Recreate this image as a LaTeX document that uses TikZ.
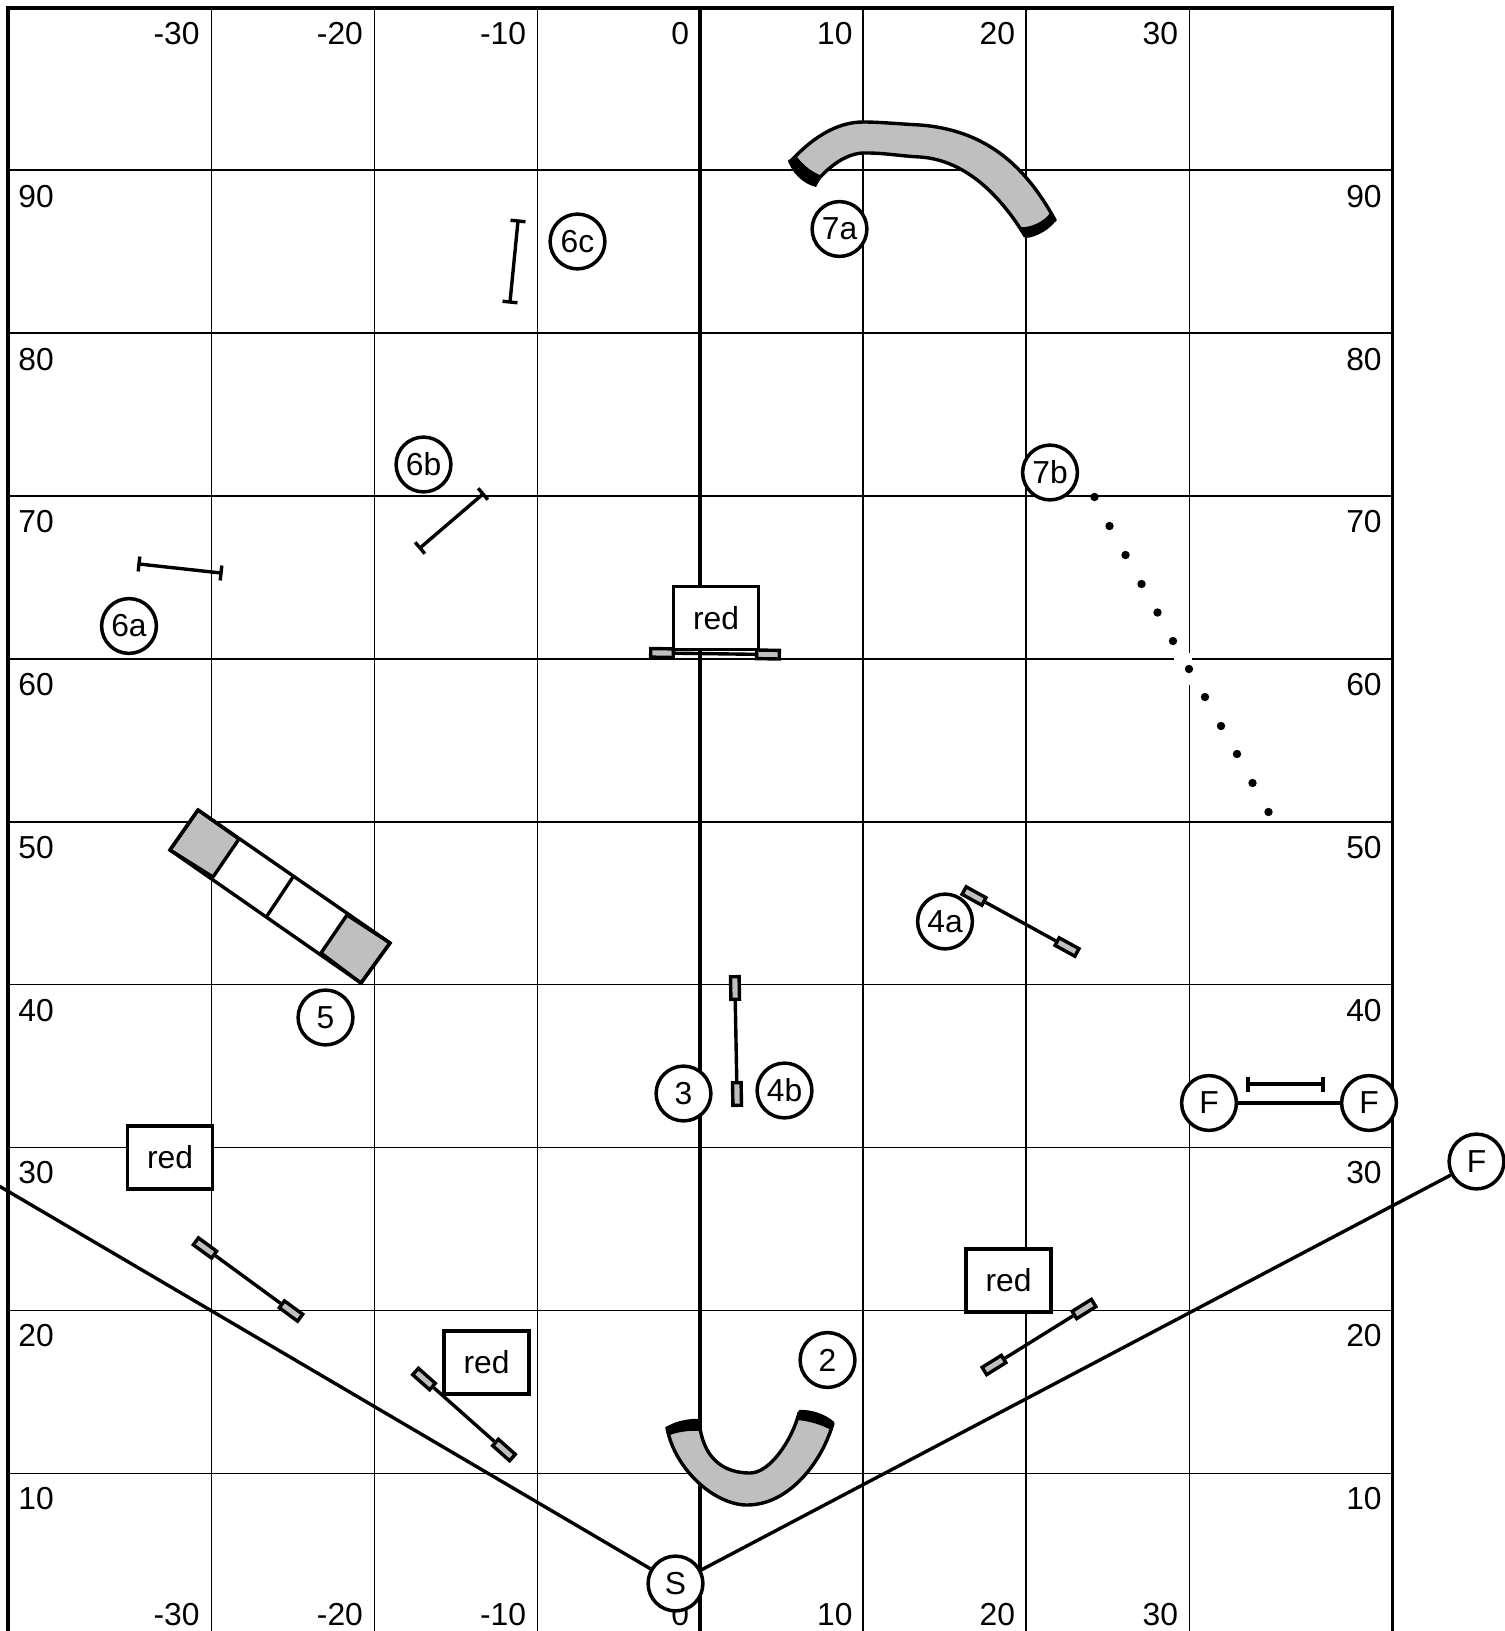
\documentclass[tikz,border=0pt]{standalone}
\usepackage{fontspec}
\setmainfont{Liberation Sans}
\begin{document}
\begin{tikzpicture}[x=0.5pt,y=-0.5pt,
  gridline/.style={line width=0.65pt,black},
  frameline/.style={line width=1.9pt,black},
  lbl/.style={inner sep=0pt,font=\fontsize{15.9}{16}\selectfont,text=black},
  station/.style={circle,draw=black,fill=white,line width=1.75pt,minimum size=27.4pt,inner sep=0pt,font=\fontsize{15.9}{16}\selectfont},
  redbox/.style={rectangle,draw=black,fill=white,line width=1.8pt,minimum width=42.6pt,minimum height=31.4pt,inner sep=0pt,font=\fontsize{15.9}{16}\selectfont},
  wing/.style={rectangle,draw=black,fill=black!25,line width=1.7pt,minimum width=11.3pt,minimum height=4.3pt,inner sep=0pt},
  barline/.style={line width=1.7pt,black},
  tunnel/.style={draw=black,fill=black!25,line width=1.7pt,line join=round},
  dotmark/.style={circle,fill=black,inner sep=0pt,minimum size=4.2pt},
]
\useasboundingbox (0,0) rectangle (1504,1631);
\fill[white] (0,0) rectangle (1504,1631);

% grid
\foreach \y in {170,333,496,659,822,984.7,1147.5,1310.5,1473.2}
  \draw[gridline] (8,\y) -- (1392.5,\y);
\foreach \x in {211.5,374.7,537.3,863,1026,1189.2}
  \draw[gridline] (\x,8) -- (\x,1631);
\draw[frameline] (700.3,8) -- (700.3,1631);
\draw[frameline] (7.8,1631) -- (7.8,7.8) -- (1392.5,7.8) -- (1392.5,1631);
% gaps in the grid beside the dotted line
\fill[white] (1174,656) rectangle (1192,662);
\fill[white] (1186,653) rectangle (1192,685);

% scale labels
\foreach \t/\x in {-30/200,-20/363.3,-10/526.5,0/689.5}{
  \node[lbl,anchor=east] (top\t) at (\x,33.5) {\t};
  \node[lbl,anchor=east] (bot\t) at (\x,1614.5) {\t};
}
\foreach \t/\x in {10/853,20/1015.5,30/1178.5}{
  \node[lbl,anchor=east] (top\t) at (\x,33.5) {\t};
  \node[lbl,anchor=east] (bot\t) at (\x,1614.5) {\t};
}
\foreach \t/\y in {90/197,80/359.5,70/522,60/684.5,50/847.5,40/1010.5,30/1173,20/1336,10/1498.5}{
  \node[lbl,anchor=west] (lft\t) at (18,\y) {\t};
  \node[lbl,anchor=east] (rgt\t) at (1382,\y) {\t};
}

% tunnels
\draw[tunnel] (790,162) .. controls (810,140) and (835,122) .. (863,122) -- (863,122) .. controls (880,122) and (900,124) .. (920,125)
   .. controls (985,130) and (1025,165) .. (1055,220) -- (1025,236)
   .. controls (1000,195) and (965,160) .. (920,157) .. controls (900,156) and (885,153) .. (867,153)
   .. controls (848,152) and (830,165) .. (815,183) -- cycle;
\fill[black] (788,160) .. controls (791,172) and (803,184) .. (816,187) -- (822,176) .. controls (812,172) and (804,166) .. (797,157) -- cycle;
\fill[black] (1056,220) .. controls (1052,228) and (1036,238) .. (1025,238) -- (1021,227) .. controls (1031,228) and (1045,221) .. (1050,213) -- cycle;

\draw[tunnel] (667,1428) .. controls (675,1470) and (715,1505) .. (747,1505)
   .. controls (790,1505) and (823,1460) .. (833,1423) -- (799,1413)
   .. controls (792,1440) and (770,1473) .. (750,1473)
   .. controls (725,1473) and (705,1460) .. (700,1428) -- cycle;
\fill[black] (666,1427) .. controls (675,1421) and (690,1418) .. (701,1419) -- (701,1431) .. controls (690,1430) and (676,1432) .. (668,1436) -- cycle;
\fill[black] (799,1410) .. controls (810,1409) and (826,1414) .. (834,1422) -- (831,1430) .. controls (822,1425) and (810,1421) .. (797,1420) -- cycle;

% A-frame
\draw[tunnel] (198,810) -- (239,839) -- (213,877) -- (170,850) -- cycle;
\draw[tunnel] (347,915) -- (390,943) -- (361,983) -- (321,953) -- cycle;
\draw[line width=1.7pt,line join=miter] (198,810) -- (390,943) -- (361,983) -- (170,850) -- cycle;
\draw[line width=1.7pt] (293,877) -- (267,916);

% plain bars
\foreach \n/\ax/\ay/\bx/\by in {
   c/518/221/510/302,
   b/483/494/420/548,
   a/139/564/221/573,
   f/1248/1084/1323/1084}{
  \coordinate (bar\n1) at (\ax,\ay);
  \coordinate (bar\n2) at (\bx,\by);
  \pgfmathsetmacro{\barang}{atan2(\by-\ay,\bx-\ax)}
  \draw[barline] (bar\n1) -- (bar\n2);
  \draw[barline] ([shift={(\barang+90:7.5)}]bar\n1) -- ([shift={(\barang-90:7.5)}]bar\n1);
  \draw[barline] ([shift={(\barang+90:7.5)}]bar\n2) -- ([shift={(\barang-90:7.5)}]bar\n2);
}

% wing jumps
\foreach \n/\ax/\ay/\bx/\by in {
   mid/735/988/737/1094,
   four/974/896/1067/947,
   lft/205/1248/291/1311,
   rgt/1084/1309/994/1365}{
  \pgfmathsetmacro{\ang}{atan2(-(\by-\ay),\bx-\ax)}
  \node[wing,rotate=\ang] (\n A) at (\ax,\ay) {};
  \node[wing,rotate=\ang] (\n B) at (\bx,\by) {};
  \draw[barline] (\n A) -- (\n B);
}

% red boxes
\node[redbox] (r1) at (716,618) {red};
\node[redbox] (r2) at (170,1157.5) {red};
\node[redbox] (r3) at (486.5,1362.5) {red};
\node[redbox] (r4) at (1008.5,1280.5) {red};

% wing jumps in front of the red boxes
\node[wing,rotate=-1] (cenA) at (662,653) {};
\node[wing,rotate=-1] (cenB) at (768,654.5) {};
\draw[barline] (cenA) -- (cenB);
\node[wing,rotate=-41.6] (lowA) at (424,1379) {};
\node[wing,rotate=-41.6] (lowB) at (504,1450) {};
\draw[barline] (lowA) -- (lowB);

% dotted line
\foreach \i/\x/\y in {1/1094.5/497,2/1109.5/526,3/1125.5/555,4/1141.5/584,5/1157.5/612.5,6/1173/641,7/1189/669,8/1205/697,9/1221/726,10/1237/754,11/1252.5/783,12/1268.5/812}{
  \node[dotmark] (dot\i) at (\x,\y) {};
}

% stations
\node[station] (s6c) at (577.5,241.5) {6c};
\node[station] (s7a) at (839.5,229) {7a};
\node[station] (s6b) at (423.5,464.5) {6b};
\node[station] (s7b) at (1050,472.5) {7b};
\node[station] (s6a) at (129,626) {6a};
\node[station] (s4a) at (945,921.5) {4a};
\node[station] (s5)  at (325.5,1017.5) {5};
\node[station] (s3)  at (683.5,1093.5) {3};
\node[station] (s4b) at (784.5,1090.5) {4b};
\node[station] (s2)  at (827.5,1360) {2};
\coordinate (offleft) at (-6,1183);
\node[station] (fA) at (1209,1103) {F};
\node[station] (fB) at (1369,1103) {F};
\node[station] (fC) at (1476.5,1161.5) {F};
\node[station] (st) at (675.5,1583.5) {S};
\draw[line width=1.7pt] (fA) -- (fB);
\draw[line width=1.7pt] (st) -- (fC);
\draw[line width=1.7pt] (st) -- (offleft);
\end{tikzpicture}
\end{document}
